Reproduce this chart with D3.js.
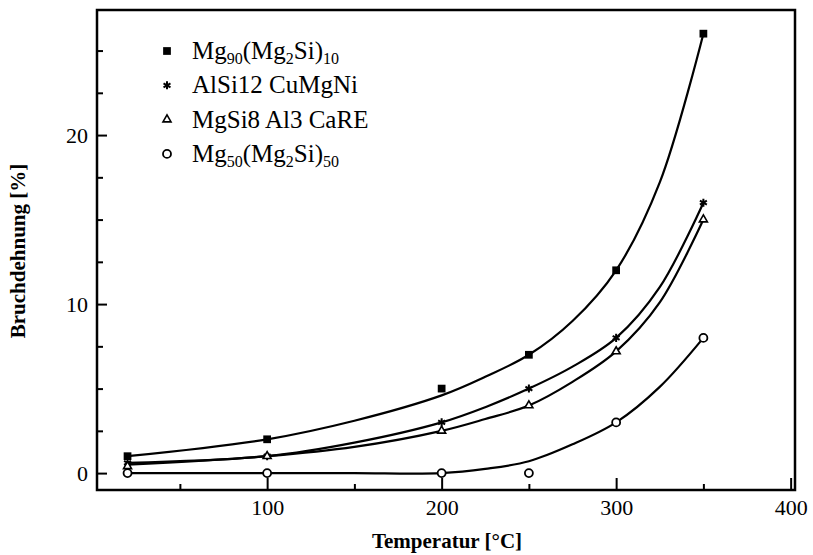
<!DOCTYPE html>
<html lang="de">
<head>
  <meta charset="UTF-8">
  <title>Bruchdehnung vs. Temperatur</title>
  <script src="https://d3js.org/d3.v7.min.js"></script>
  <style>
    body { margin: 0; background: #fff; }
    svg text { font-family: "Liberation Serif", "Times New Roman", serif; fill: #000; }
    .tick text { font-size: 22px; }
    .title { font-size: 21px; font-weight: bold; }
    .legend text { font-size: 25px; }
    .fit { fill: none; stroke: #000; stroke-width: 2.2px; }
  </style>
</head>
<body>
  <svg width="813" height="555"></svg>

  <script>
    // measured points
    const temps  = [20, 100, 200, 250, 300, 350];
    const mg90   = [1, 2, 5, 7, 12, 26];
    const alsi12 = [0.6, 1, 3, 5, 8, 16];
    const mgsi8  = [0.4, 1, 2.5, 4, 7.2, 15];
    const mg50   = [0, 0, 0, 0, 3, 8];

    // fitted curves
    const fitTemps  = [20, 100, 150, 200, 225, 250, 275, 300, 325, 350];
    const mg90Fit   = [1.0, 2.0, 3.1, 4.6, 5.7, 7.0, 9.0, 12.0, 17.2, 26.0];
    const alsi12Fit = [0.6, 1.0, 1.8, 3.0, 3.9, 5.0, 6.3, 8.0, 11.0, 16.0];
    const mgsi8Fit  = [0.5, 1.0, 1.55, 2.5, 3.2, 4.0, 5.4, 7.2, 10.1, 15.0];
    const mg50Fit   = [0, 0, 0, 0, 0.25, 0.7, 1.7, 3.0, 5.1, 8.0];

    const xMajor = [100, 200, 300, 400];
    const xMinor = [50, 150, 250, 350];
    const yMajor = [0, 10, 20];
    const yMinor = [2.5, 5, 7.5, 12.5, 15, 17.5, 22.5, 25];

    const series = [
      {name: ["Mg", "90", "(Mg", "2", "Si)", "10"], y: mg90, fit: mg90Fit, sym: "square"},
      {name: ["AlSi12 CuMgNi"], y: alsi12, fit: alsi12Fit, sym: "asterisk"},
      {name: ["MgSi8 Al3 CaRE"], y: mgsi8, fit: mgsi8Fit, sym: "triangle"},
      {name: ["Mg", "50", "(Mg", "2", "Si)", "50"], y: mg50, fit: mg50Fit, sym: "circle"}
    ];

    const svg = d3.select("svg");
    const m = {left: 97, right: 795, top: 10, bottom: 490};

    const x = d3.scaleLinear().domain([2.5, 402.5]).range([m.left, m.right]);
    const y = d3.scaleLinear().domain([-1, 27.4]).range([m.bottom, m.top]);

    // frame
    svg.append("rect")
      .attr("x", m.left).attr("y", m.top)
      .attr("width", m.right - m.left).attr("height", m.bottom - m.top)
      .attr("fill", "none").attr("stroke", "#000").attr("stroke-width", 2.5);

    // x axis
    const gx = svg.append("g").attr("transform", `translate(0,${m.bottom})`);
    gx.call(d3.axisBottom(x).tickValues(xMajor).tickSize(-12).tickPadding(9).tickFormat(d3.format("d")));
    gx.append("g").call(d3.axisBottom(x).tickValues(xMinor).tickSize(-6).tickFormat(""));
    gx.selectAll(".domain").remove();
    gx.selectAll("line").attr("stroke-width", 2);

    // y axis
    const gy = svg.append("g").attr("transform", `translate(${m.left},0)`);
    gy.call(d3.axisLeft(y).tickValues(yMajor).tickSize(-10).tickPadding(9).tickFormat(d3.format("d")));
    gy.append("g").call(d3.axisLeft(y).tickValues(yMinor).tickSize(-6).tickFormat(""));
    gy.selectAll(".domain").remove();
    gy.selectAll("line").attr("stroke-width", 2);
    svg.selectAll(".tick text").attr("font-family", null);

    // axis titles
    svg.append("text").attr("class", "title")
      .attr("x", 447).attr("y", 548).attr("text-anchor", "middle")
      .text("Temperatur [°C]");
    svg.append("text").attr("class", "title")
      .attr("transform", "translate(25,251) rotate(-90)")
      .attr("text-anchor", "middle")
      .text("Bruchdehnung [%]");

    // fitted curves
    const line = d3.line()
      .x((d, i) => x(fitTemps[i]))
      .y(d => y(d))
      .curve(d3.curveCatmullRom.alpha(0.5));

    svg.selectAll(".fit")
      .data(series)
      .enter().append("path")
        .attr("class", "fit")
        .attr("d", s => line(s.fit));

    // markers
    function drawMarker(g, sym) {
      if (sym === "square") {
        g.append("path").attr("d", d3.symbol(d3.symbolSquare, 60)()).attr("fill", "#000");
      } else if (sym === "asterisk") {
        g.append("path").attr("d", d3.symbol(d3.symbolAsterisk, 45)())
          .attr("fill", "none").attr("stroke", "#000").attr("stroke-width", 2);
      } else if (sym === "triangle") {
        g.append("path").attr("d", d3.symbol(d3.symbolTriangle, 28)())
          .attr("fill", "#fff").attr("stroke", "#000").attr("stroke-width", 1.6);
      } else {
        g.append("circle").attr("r", 4)
          .attr("fill", "#fff").attr("stroke", "#000").attr("stroke-width", 1.8);
      }
    }

    series.forEach(s => {
      s.y.forEach((v, i) => {
        const g = svg.append("g").attr("transform", `translate(${x(temps[i])},${y(v)})`);
        drawMarker(g, s.sym);
      });
    });

    // legend
    const legend = svg.append("g").attr("class", "legend");
    series.forEach((s, i) => {
      const cy = 51 + i * 34.3;
      drawMarker(legend.append("g").attr("transform", `translate(167,${cy})`), s.sym);
      const t = legend.append("text").attr("x", 192).attr("y", cy + 8);
      s.name.forEach((part, j) => {
        const sub = s.name.length > 1 && j % 2 === 1;
        t.append("tspan")
          .attr("font-size", sub ? 16 : null)
          .attr("dy", sub ? 5 : (j > 0 ? -5 : 0))
          .text(part);
      });
    });
  </script>
</body>
</html>
